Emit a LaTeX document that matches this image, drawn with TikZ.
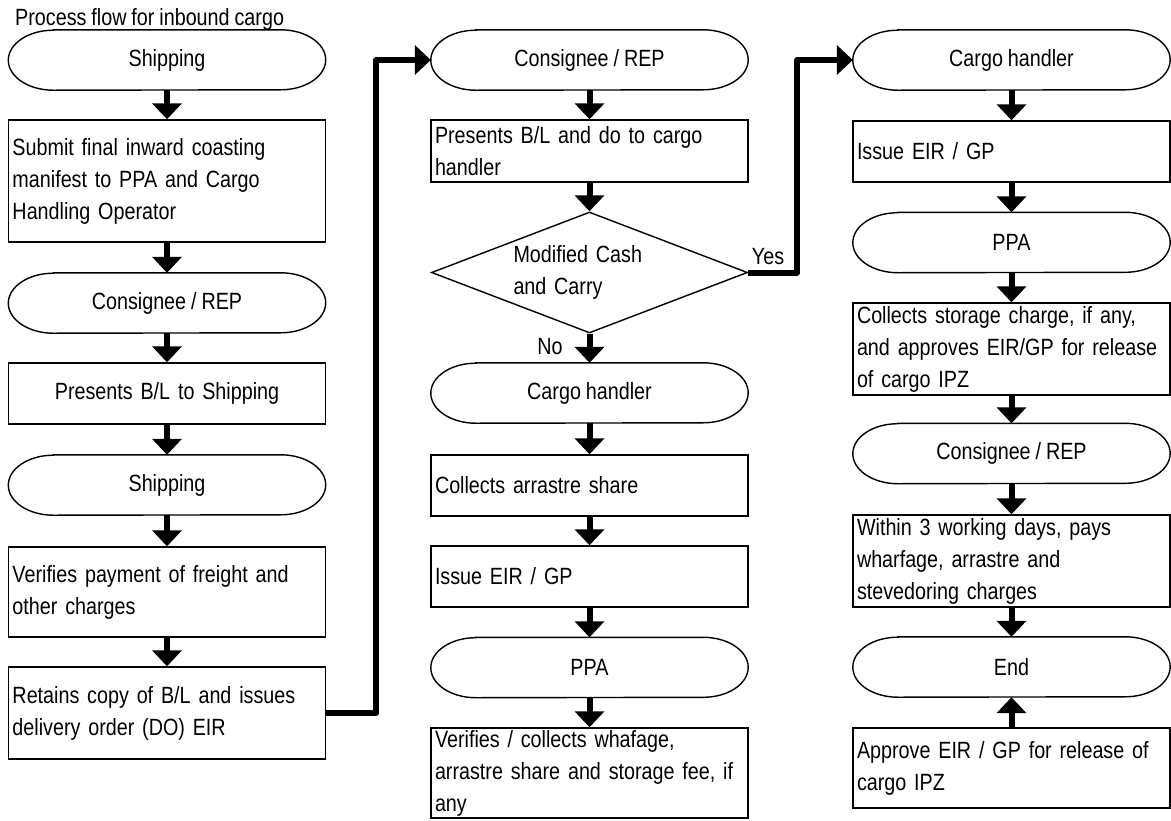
\documentclass[tikz,border=0pt]{standalone}
\usepackage{fontspec}
\setmainfont{Liberation Sans}[FakeStretch=0.84, WordSpace=0.9]
\usetikzlibrary{shapes.geometric,arrows.meta}
\newcommand\myline[1]{\mbox{#1}}
\begin{document}
\begin{tikzpicture}[x=1pt,y=1pt,
  every node/.style={font=\fontsize{23.5pt}{32pt}\selectfont},
  box/.style={draw, line width=1.4pt, minimum width=317pt, text width=309pt,
    inner xsep=4pt, inner ysep=0pt, align=left},
  cbox/.style={box, align=center},
  term/.style={minimum width=317pt, minimum height=60pt, inner sep=0pt},
  outline/.style={draw, line width=1.4pt},
  flow/.style={line width=6pt, -{Triangle[width=29pt,length=16pt]}},
  link/.style={flow, line join=round},
  lbl/.style={inner sep=0pt}]
\useasboundingbox (0,0) rectangle (1171,-820);

\node[anchor=base west, inner sep=0pt, font=\fontsize{23.5pt}{26pt}\selectfont] (title) at (15,-25) {Process flow for inbound cargo};

% column 1
\node[term] (t1) at (167,-60) {Shipping};
\node[box, minimum height=122pt] (b1) at (167,-181) {\myline{Submit final inward coasting}\\\myline{manifest to PPA and Cargo}\\\myline{Handling Operator}};
\node[term] (t2) at (167,-303) {Consignee / REP};
\node[cbox, minimum height=61pt] (b2) at (167,-393.5) {Presents B/L to Shipping};
\node[term] (t3) at (167,-485) {Shipping};
\node[box, minimum height=90pt] (b3) at (167,-592) {\myline{Verifies payment of freight and}\\\myline{other charges}};
\node[box, minimum height=92pt] (b4) at (167,-713) {\myline{Retains copy of B/L and issues}\\\myline{delivery order (DO) EIR}};

% column 2
\node[term] (c1) at (589.5,-60) {Consignee / REP};
\node[box, minimum height=62pt] (c2) at (589.5,-151) {\myline{Presents B/L and do to cargo}\\\myline{handler}};
\node[diamond, draw, line width=1.4pt, minimum width=316pt, minimum height=121pt,
  aspect=2.6, inner sep=0pt, text width=152pt, align=left] (d) at (589.5,-272.5) {\myline{Modified Cash}\\\myline{and Carry}};
\node[term] (c3) at (589.5,-393) {Cargo handler};
\node[box, minimum height=61pt] (c4) at (589.5,-485.5) {\myline{Collects arrastre share}};
\node[box, minimum height=61pt] (c5) at (589.5,-576.5) {\myline{Issue EIR / GP}};
\node[term] (c6) at (589.5,-667.5) {PPA};
\node[box, minimum height=90pt] (c7) at (589.5,-773) {\myline{Verifies / collects whafage,}\\\myline{arrastre share and storage fee, if}\\\myline{any}};

% column 3
\node[term] (e1) at (1011.5,-60) {Cargo handler};
\node[box, minimum height=61pt] (e2) at (1011.5,-151.5) {\myline{Issue EIR / GP}};
\node[term] (e3) at (1011.5,-242.5) {PPA};
\node[box, minimum height=92pt] (e4) at (1011.5,-349) {\myline{Collects storage charge, if any,}\\\myline{and approves EIR/GP for release}\\\myline{of cargo IPZ}};
\node[term] (e5) at (1011.5,-453.5) {Consignee / REP};
\node[box, minimum height=92pt] (e6) at (1011.5,-561) {\myline{Within 3 working days, pays}\\\myline{wharfage, arrastre and}\\\myline{stevedoring charges}};
\node[term] (e7) at (1011.5,-667) {End};
\node[box, minimum height=80pt] (e8) at (1011.5,-768) {\myline{Approve EIR / GP for release of}\\\myline{cargo IPZ}};

% terminator outlines
\foreach \n in {t1,t2,t3,c1,c3,c6,e1,e3,e5,e7}{
  \draw[outline] ([xshift=45pt]\n.north west) -- ([xshift=-45pt]\n.north east)
    arc[start angle=90,end angle=-90,x radius=45pt,y radius=30pt]
    -- ([xshift=45pt]\n.south west)
    arc[start angle=270,end angle=90,x radius=45pt,y radius=30pt] -- cycle;
}

% labels
\node[lbl] (yes) at (768,-257) {Yes};
\node[lbl] (no) at (550,-347) {No};

% arrows
\foreach \a/\b in {t1/b1,b1/t2,t2/b2,b2/t3,t3/b3,b3/b4,
                   c1/c2,c2/d,d/c3,c3/c4,c4/c5,c5/c6,c6/c7,
                   e1/e2,e2/e3,e3/e4,e4/e5,e5/e6,e6/e7,e8/e7}
  \draw[flow] (\a) -- (\b);

\draw[link] (b4.east) -- ++(50,0) |- (c1.west);
\draw[link] (d.east) -- ++(49,0) |- (e1.west);
\end{tikzpicture}
\end{document}
